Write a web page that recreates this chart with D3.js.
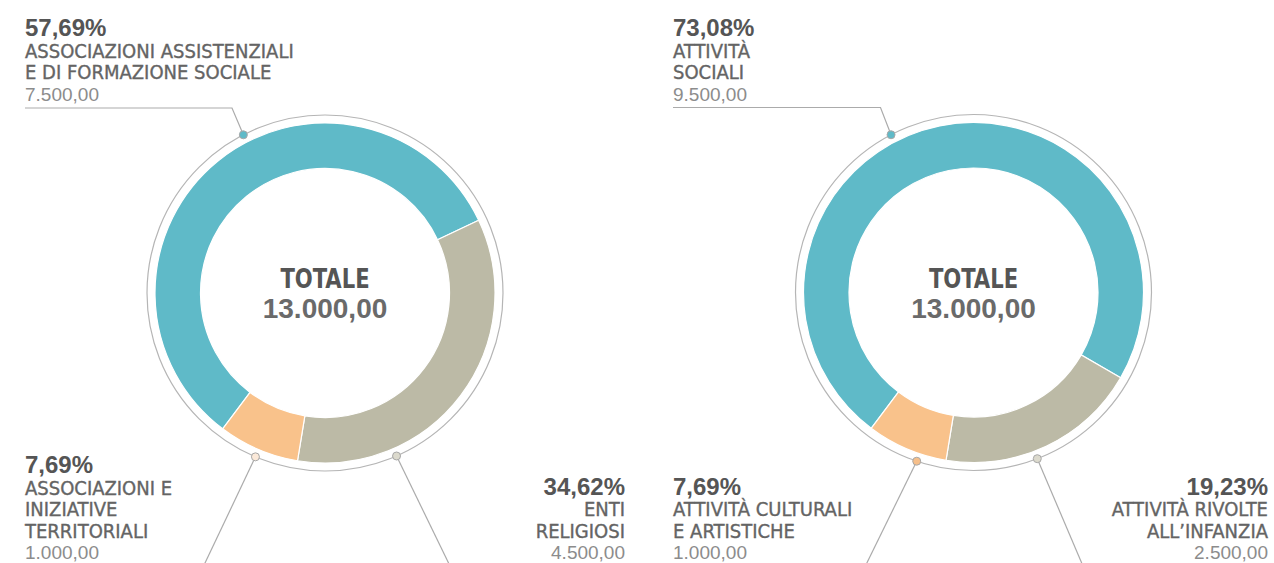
<!DOCTYPE html>
<html>
<head>
<meta charset="utf-8">
<script src="https://cdn.jsdelivr.net/npm/d3@7"></script>
<style>
  body { margin: 0; background: #fff; }
  svg { display: block; }
  .pct { font-family: "Liberation Sans", Arial, sans-serif; font-weight: bold; font-size: 24px; fill: #555; }
  .cat { font-family: "DejaVu Sans Condensed", "Liberation Sans Narrow", sans-serif; font-size: 20px; fill: #646464; stroke: #646464; stroke-width: 0.35px; }
  .val { font-family: "Liberation Sans", Arial, sans-serif; font-size: 19px; fill: #8c8c8c; }
  .tot { font-family: "DejaVu Sans Condensed", sans-serif; font-weight: bold; font-size: 27px; fill: #555; }
  .totv { font-family: "Liberation Sans", Arial, sans-serif; font-weight: bold; font-size: 28px; fill: #6a6a6a; }
</style>
</head>
<body>
<svg id="chart" width="1274" height="563"></svg>
<script>
// data: left donut (beneficiari), right donut (ambiti)
const categoriesA = [
    ["ASSOCIAZIONI ASSISTENZIALI", "E DI FORMAZIONE SOCIALE"],
    ["ENTI", "RELIGIOSI"],
    ["ASSOCIAZIONI E", "INIZIATIVE", "TERRITORIALI"]
]
const valuesA = [7500, 4500, 1000]

const categoriesB = [
    ["ATTIVITÀ", "SOCIALI"],
    ["ATTIVITÀ RIVOLTE", "ALL’INFANZIA"],
    ["ATTIVITÀ CULTURALI", "E ARTISTICHE"]
]
const valuesB = [9500, 2500, 1000]

const sliceColors = ["#5fbac8", "#bcbaa6", "#f9c28b"]
const dotColorsA = ["#5fbac8", "#dcdacd", "#fbe9d9"]
const dotColorsB = ["#5fbac8", "#dcdacd", "#f6bf8a"]

const totalLabel = "TOTALE"

// layout
const width = 1274, height = 563
const rInner = 124.5, rOuter = 170, rRing = 178
const startDeg = -143
const rad = Math.PI / 180

const panels = [
    { cx: 325, cy: 293, leftX: 25, rightX: 625, cats: categoriesA, vals: valuesA, dots: dotColorsA,
      // per slice: where the label sits, angle of the dot on the ring, end of the leader (relative to centre)
      place: ["top", "bottomRight", "bottomLeft"],
      dotDeg: [-27.3, 156.3, 203],
      lead: [[-93, -185], [143, 310], [-139, 310]] },
    { cx: 973.5, cy: 292.5, leftX: 673, rightX: 1268, cats: categoriesB, vals: valuesB, dots: dotColorsB,
      place: ["top", "bottomRight", "bottomLeft"],
      dotDeg: [-27.6, 159, 198.6],
      lead: [[-93, -185], [125, 310], [-126, 310]] }
]

const it = d3.formatLocale({ decimal: ",", thousands: ".", grouping: [3], currency: ["€", ""] })
const fmtVal = it.format(",.2f")
const fmtPct = it.format(".2f")

const svg = d3.select("#chart")

const pie = d3.pie().sort(null)
    .startAngle(startDeg * rad)
    .endAngle(startDeg * rad + 2 * Math.PI)
const arc = d3.arc().innerRadius(rInner).outerRadius(rOuter)

panels.forEach(p => {
    const total = d3.sum(p.vals)
    const g = svg.append("g").attr("transform", `translate(${p.cx},${p.cy})`)

    // outer thin ring
    g.append("circle").attr("r", rRing)
        .attr("fill", "none").attr("stroke", "#b5b5b5").attr("stroke-width", 1.2)

    g.selectAll(".slice")
        .data(pie(p.vals))
        .join("path")
            .attr("class", "slice")
            .attr("d", arc)
            .attr("fill", (d, i) => sliceColors[i])
            .attr("stroke", "#fff")
            .attr("stroke-width", 1.2)

    // centre
    g.append("text").attr("class", "tot").attr("text-anchor", "middle")
        .attr("transform", "translate(0,-5) scale(0.87,1)").text(totalLabel)
    g.append("text").attr("class", "totv").attr("text-anchor", "middle").attr("y", 25).text(fmtVal(total))

    // leaders + labels
    p.vals.forEach((v, i) => {
        const a = p.dotDeg[i] * rad
        const dx = rRing * Math.sin(a), dy = -rRing * Math.cos(a)
        const end = p.lead[i]
        let pts = [[dx, dy], end]
        if (p.place[i] == "top") pts.push([p.leftX - p.cx, end[1]])

        g.append("path")
            .attr("d", d3.line()(pts))
            .attr("fill", "none").attr("stroke", "#ababab").attr("stroke-width", 1.2)
        g.append("circle")
            .attr("cx", dx).attr("cy", dy).attr("r", 4)
            .attr("fill", p.dots[i]).attr("stroke", "#a8a8a8").attr("stroke-width", 1)

        const lines = p.cats[i]
        let x, anchor, y0
        const step = 21.5
        if (p.place[i] == "top") {
            x = p.leftX; anchor = "start"; y0 = 36
        } else {
            x = p.place[i] == "bottomLeft" ? p.leftX : p.rightX
            anchor = p.place[i] == "bottomLeft" ? "start" : "end"
            y0 = 559 - step * (lines.length + 1)
        }
        const t = svg.append("g").attr("text-anchor", anchor)
        t.append("text").attr("class", "pct").attr("x", x).attr("y", y0).text(fmtPct(v / total * 100) + "%")
        lines.forEach((ln, j) => {
            t.append("text").attr("class", "cat").attr("x", x).attr("y", y0 + step * (j + 1)).text(ln)
        })
        t.append("text").attr("class", "val").attr("x", x).attr("y", y0 + step * (lines.length + 1)).text(fmtVal(v))
    })
})
</script>
</body>
</html>
